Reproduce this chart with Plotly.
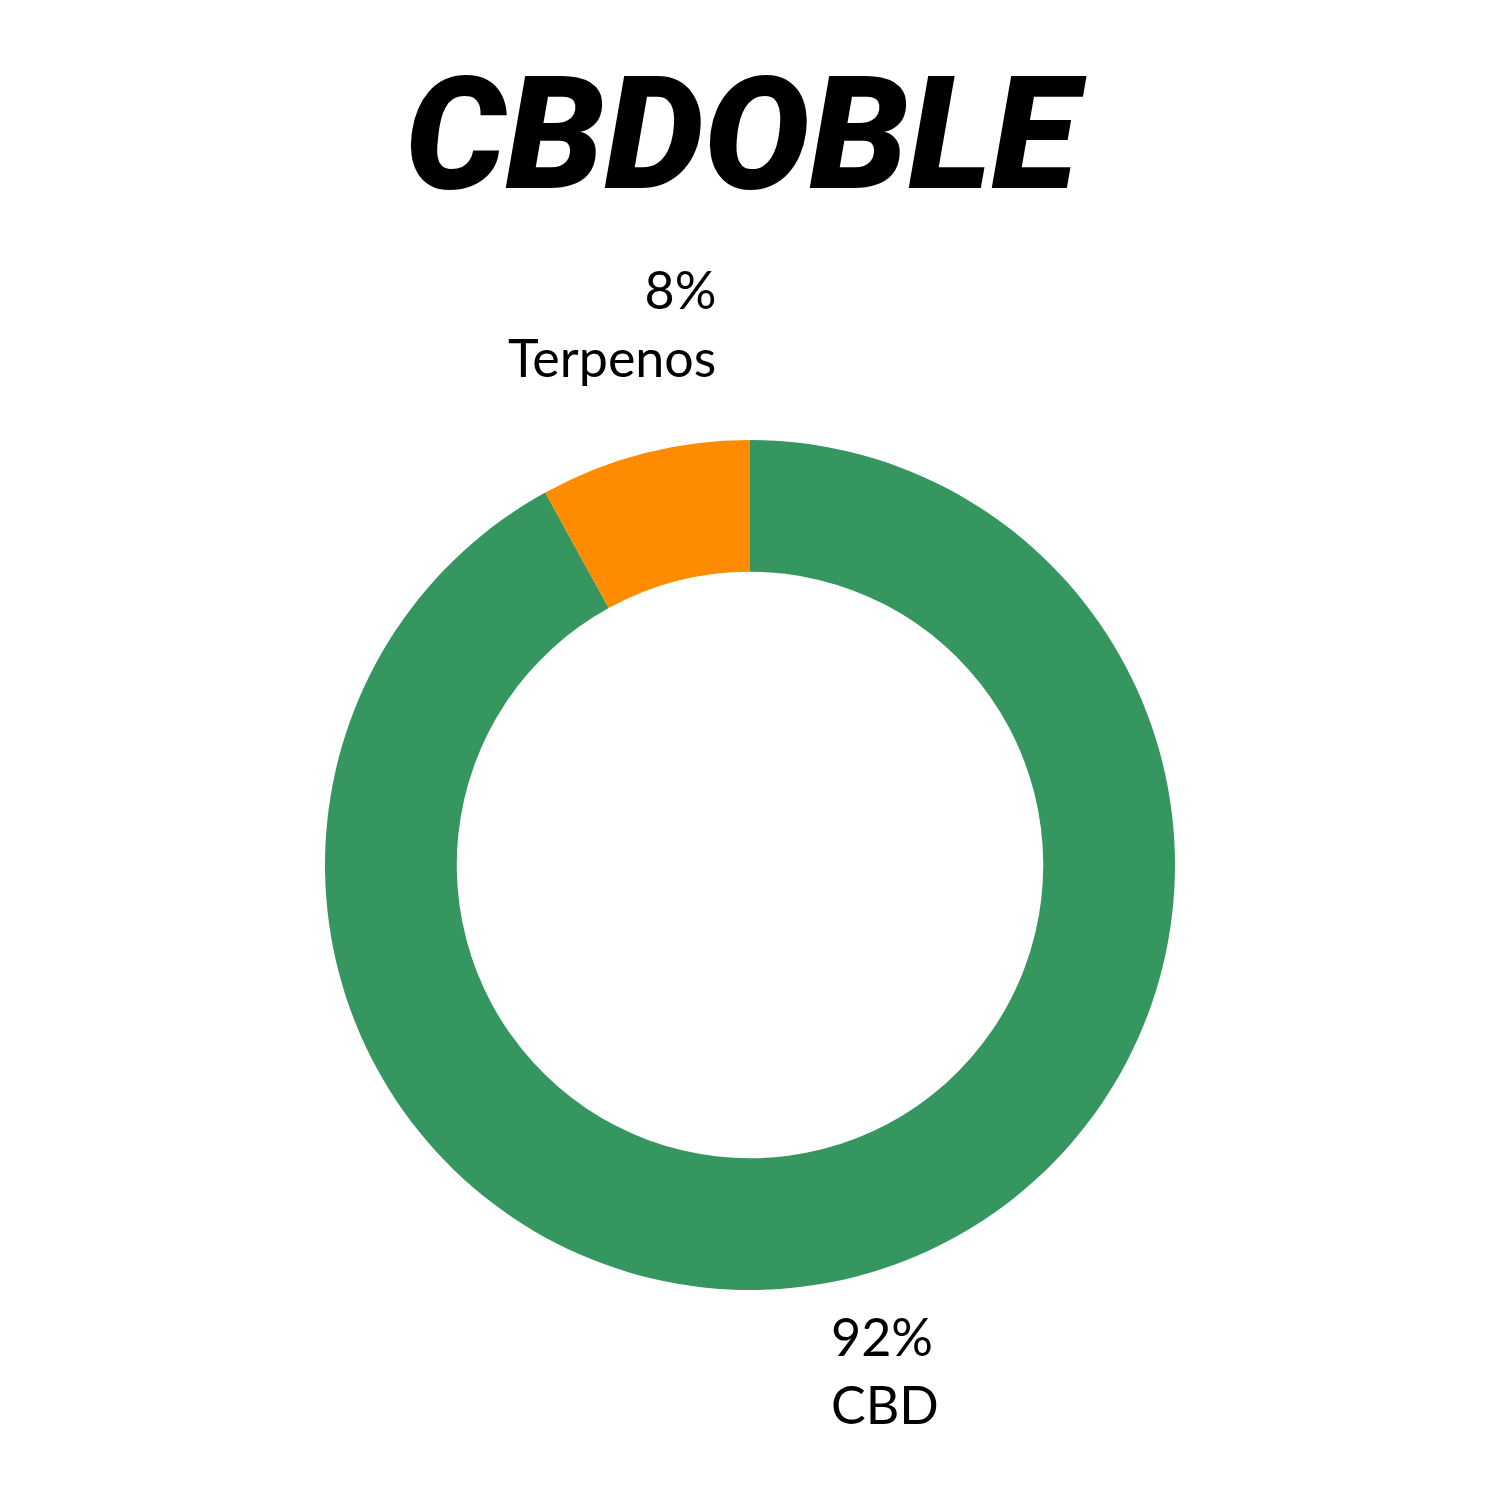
import plotly.graph_objects as go

# slice data
labels = ["CBD", "Terpenos"]
values = [92, 8]
colors = ["#35965F", "#FF8C00"]

title_text = "CBDOBLE"

# label placement (paper coords) for each slice
label_x = [0.547, 0.473]
label_y = [0.092, 0.790]
label_align = ["left", "right"]

total = sum(values)

fig = go.Figure(
    go.Pie(
        labels=labels,
        values=values,
        marker=dict(colors=colors, line=dict(width=0)),
        hole=0.69,
        sort=False,
        direction="clockwise",
        rotation=0,
        textinfo="none",
        hoverinfo="label+percent",
        showlegend=False,
        domain=dict(x=[317 / 1500, 1167 / 1500], y=[218 / 1500, 1068 / 1500]),
    )
)

annotations = [
    dict(
        text=title_text,
        x=0.492,
        y=0.916,
        xref="paper",
        yref="paper",
        xanchor="center",
        yanchor="middle",
        showarrow=False,
        font=dict(family="Roboto, sans-serif", size=158, color="#000000",
                  weight=900, style="italic"),
    )
]
for lab, v, x, y, al in zip(labels, values, label_x, label_y, label_align):
    annotations.append(
        dict(
            text=f"{round(100 * v / total)}%<br>{lab}",
            x=x,
            y=y,
            xref="paper",
            yref="paper",
            xanchor="left" if al == "left" else "right",
            yanchor="middle",
            align=al,
            showarrow=False,
            font=dict(family="Lato, sans-serif", size=52, color="#000000"),
        )
    )

fig.update_layout(
    width=1500,
    height=1500,
    margin=dict(l=0, r=0, t=0, b=0),
    paper_bgcolor="white",
    plot_bgcolor="white",
    annotations=annotations,
)

fig.write_html("out.html")
